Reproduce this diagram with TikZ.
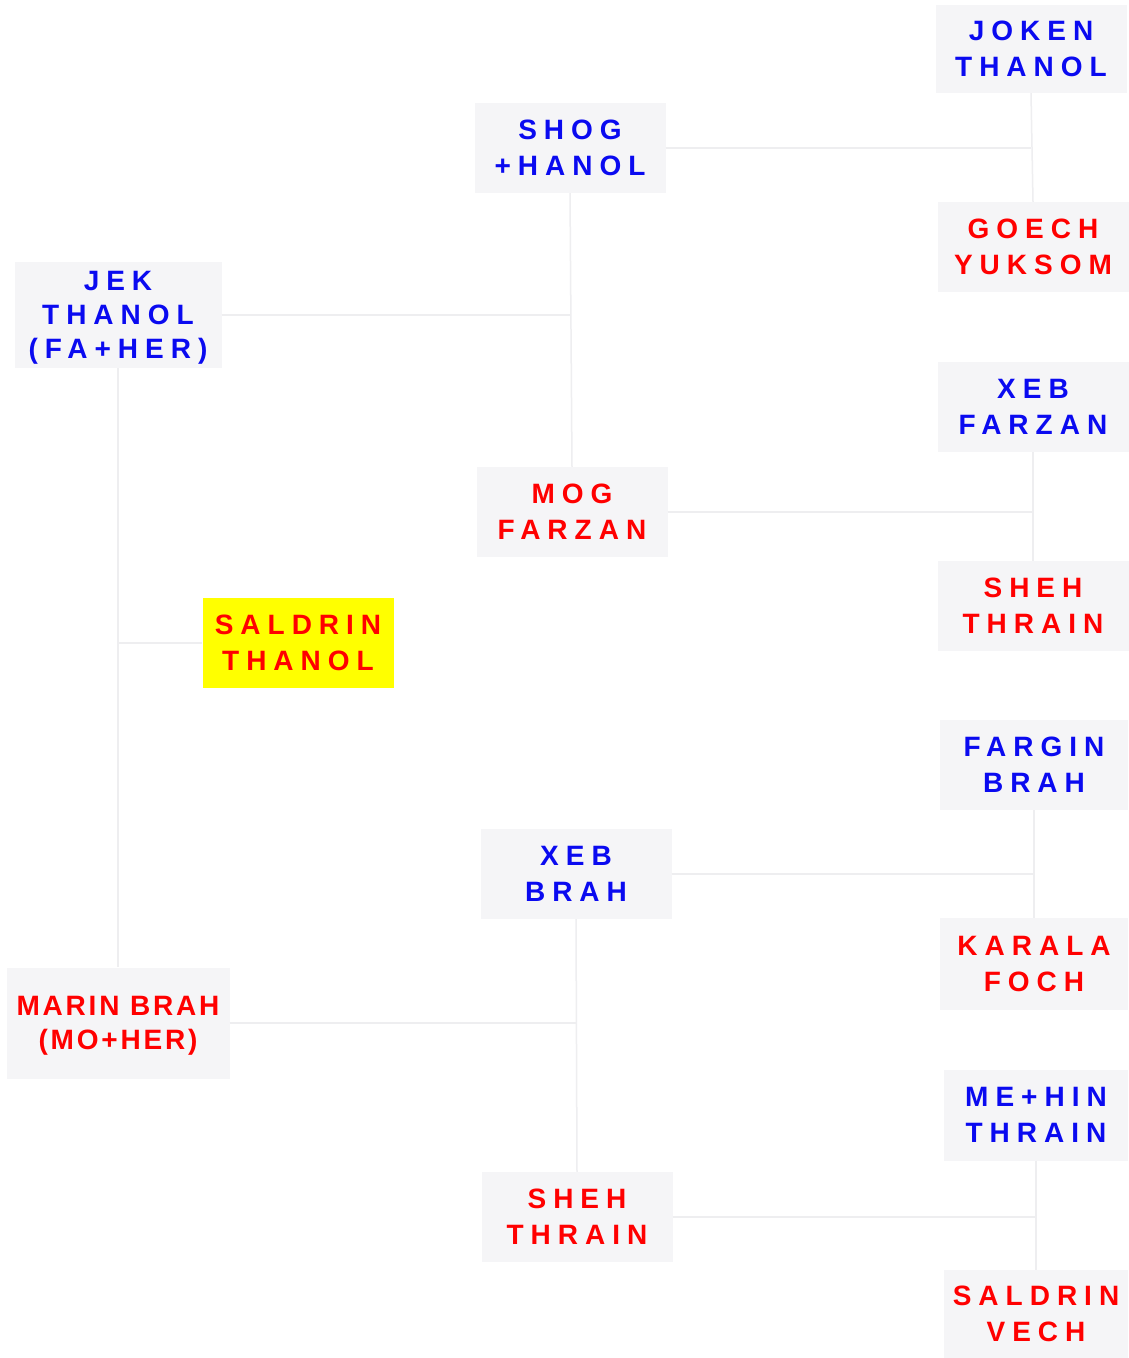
\documentclass[tikz,border=0pt]{standalone}
\usepackage{fontspec}
\newfontfamily\gfont{Liberation Sans}[LetterSpace=25]
\newfontfamily\gfontn{Liberation Sans}[LetterSpace=10]
\definecolor{boxgray}{RGB}{245,245,247}
\definecolor{linegray}{RGB}{238,238,240}
\definecolor{nblue}{RGB}{10,10,240}
\definecolor{nred}{RGB}{255,0,0}
\definecolor{hlyellow}{RGB}{255,255,0}
\newcommand{\nodepth}[1]{\raisebox{0pt}[\height][0pt]{#1}}
\tikzset{
  box/.style={fill=boxgray, minimum width=191pt, minimum height=90pt, align=center,
    inner sep=0pt, font={\gfont\bfseries\fontsize{28}{36}\selectfont}},
  blu/.style={box, text=nblue},
  rd/.style={box, text=nred},
  link/.style={draw=linegray, line width=1.5pt}
}
\begin{document}
\begin{tikzpicture}[x=1pt,y=-1pt]
\fill[white] (0,0) rectangle (1129,1358);
\useasboundingbox (0,0) rectangle (1129,1358);
% nodes
\node[blu, minimum height=88pt] (joken) at (1031,49) {JOKEN\\THANOL};
\node[blu] (shog) at (570,148) {SHOG\\+HANOL};
\node[rd] (goech) at (1033,247) {GOECH\\YUKSOM};
\node[blu, minimum width=207pt, minimum height=106pt,
  font={\gfont\bfseries\fontsize{28}{34}\selectfont}] (jek) at (118,315) {JEK\\THANOL\\\nodepth{(FA+HER)}};
\node[blu] (xebf) at (1033,407) {XEB\\FARZAN};
\node[rd] (mog) at (572,512) {MOG\\FARZAN};
\node[rd] (sheh) at (1033,606) {SHEH\\THRAIN};
\node[rd, fill=hlyellow] (saldrin) at (298,643) {SALDRIN\\THANOL};
\node[blu, minimum width=188pt] (fargin) at (1034,765) {FARGIN\\BRAH};
\node[blu] (xebb) at (576,874) {XEB\\BRAH};
\node[rd, minimum width=188pt, minimum height=92pt] (karala) at (1034,964) {KARALA\\FOCH};
\node[rd, minimum width=223pt, minimum height=111pt,
  font={\gfontn\bfseries\fontsize{28}{34}\selectfont}] (marin) at (118,1023) {MARIN BRAH\\\nodepth{(MO+HER)}};
\node[blu, minimum width=184pt, minimum height=91pt] (methin) at (1036,1115) {ME+HIN\\THRAIN};
\node[rd] (shehb) at (577,1217) {SHEH\\THRAIN};
\node[rd, minimum width=184pt, minimum height=88pt] (vech) at (1036,1314) {SALDRIN\\VECH};
% connectors
\draw[link] (joken.south) -- (goech.north);
\draw[link] (shog.east) -- (joken.south |- shog.east);
\draw[link] (shog.south) -- (mog.north);
\draw[link] (jek.east) -- (shog.south |- jek.east);
\draw[link] (xebf.south) -- (sheh.north);
\draw[link] (mog.east) -- (xebf.south |- mog.east);
\draw[link] (jek.south) -- (marin.north);
\draw[link] (jek.south |- saldrin.west) -- (saldrin.west);
\draw[link] (fargin.south) -- (karala.north);
\draw[link] (xebb.east) -- (fargin.south |- xebb.east);
\draw[link] (xebb.south) -- (shehb.north);
\draw[link] (marin.east) -- (xebb.south |- marin.east);
\draw[link] (methin.south) -- (vech.north);
\draw[link] (shehb.east) -- (methin.south |- shehb.east);
\end{tikzpicture}
\end{document}
